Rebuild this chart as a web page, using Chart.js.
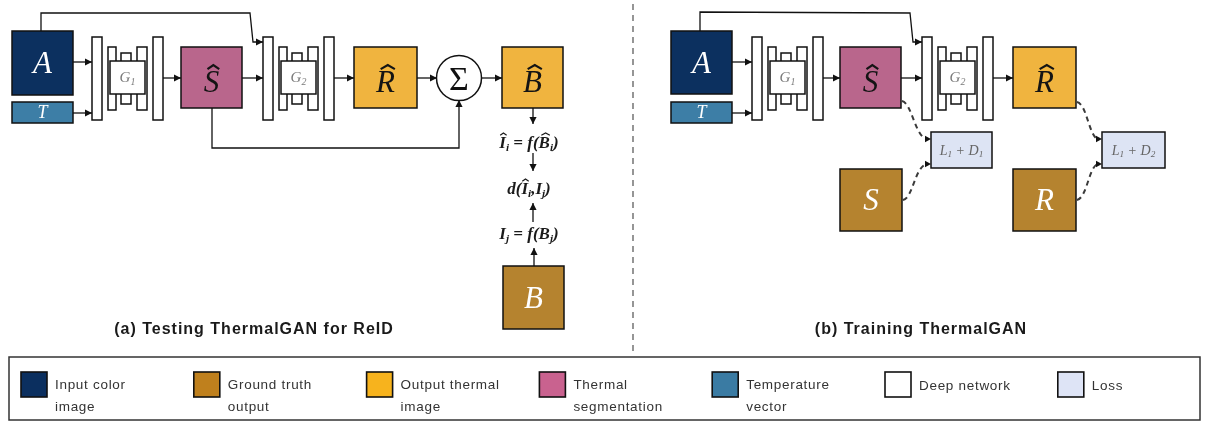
<!DOCTYPE html>
<html>
<head>
<meta charset="utf-8">
<script src="https://cdn.jsdelivr.net/npm/chart.js@4"></script>
<style>
  html, body { margin: 0; padding: 0; background: #ffffff; }
  canvas { display: block; }
</style>
</head>
<body>
<canvas id="diagram" width="1209" height="423"></canvas>
<script>
// ---- Diagram content (coordinates are in diagram units: x 0..1209, y 0..423 top-down) ----

// Coloured image blocks
const blockLetters = ['A', 'T', 'S', 'R', 'B', 'B', 'A', 'T', 'S', 'R', 'S', 'R'];
const blockHats    = [false, false, true, true, true, false, false, false, true, true, false, false];
const blockKinds   = ['input', 'temp', 'seg', 'thermal', 'thermal', 'truth',
                      'input', 'temp', 'seg', 'thermal', 'truth', 'truth'];
const blockLeft    = [12, 12, 181, 354, 502, 503, 671, 671, 840, 1013, 840, 1013];
const blockTop     = [31, 102, 47, 47, 47, 266, 31, 102, 47, 47, 169, 169];
const blockRight   = [73, 73, 242, 417, 563, 564, 732, 732, 901, 1076, 902, 1076];
const blockBottom  = [95, 123, 108, 108, 108, 329, 94, 123, 108, 108, 231, 231];

// Generator networks (encoder bar, G block, decoder bar)
const genIndex = ['1', '2', '1', '2'];
const genStart = [92, 263, 752, 922];

// Loss blocks
const lossIndex  = ['1', '2'];
const lossLeft   = [931, 1102];
const lossRight  = [992, 1165];
const lossTop    = [132, 132];
const lossBottom = [168, 168];

// Solid arrows (polylines, arrowhead at the last point)
const arrowPaths = [
  [[73, 62], [92, 62]], [[73, 113], [92, 113]], [[163, 78], [181, 78]], [[242, 78], [263, 78]],
  [[41, 31], [41, 13], [250, 13], [253, 42], [263, 42]],
  [[334, 78], [354, 78]], [[417, 78], [437, 78]], [[482, 78], [502, 78]],
  [[212, 108], [212, 148], [459, 148], [459, 100]],
  [[533, 108], [533, 124]], [[533, 153], [533, 171]], [[533, 222], [533, 203]], [[534, 266], [534, 248]],
  [[732, 62], [752, 62]], [[732, 113], [752, 113]], [[823, 78], [840, 78]], [[901, 78], [922, 78]],
  [[700, 31], [700, 12], [910, 13], [913, 42], [922, 42]],
  [[993, 78], [1013, 78]]
];

// Dashed loss connections (cubic curves: start, control 1, control 2, end)
const lossCurves = [
  [[902, 101], [912, 103], [915, 137], [931, 139]],
  [[903, 200], [913, 198], [915, 166], [931, 164]],
  [[1077, 102], [1087, 104], [1089, 137], [1102, 139]],
  [[1077, 200], [1087, 198], [1089, 166], [1102, 164]]
];

// Summation node
const sumNode = { x: 459, y: 78, r: 22.5 };

// ReID distance formulas
const formulaRows = [
  [{ t: 'I', hat: true }, { t: 'i', sub: true }, { t: ' = ' }, { t: 'f' }, { t: '(' }, { t: 'B', hat: true }, { t: 'i', sub: true }, { t: ')' }],
  [{ t: 'd' }, { t: '(' }, { t: 'I', hat: true }, { t: 'i', sub: true }, { t: ',' }, { t: 'I' }, { t: 'j', sub: true }, { t: ')' }],
  [{ t: 'I' }, { t: 'j', sub: true }, { t: ' = ' }, { t: 'f' }, { t: '(' }, { t: 'B' }, { t: 'j', sub: true }, { t: ')' }]
];
const formulaY = [142, 188, 233];

const panelTitles = ['(a) Testing ThermalGAN for ReID', '(b) Training ThermalGAN'];
const legendLabels = [['Input color', 'image'], ['Ground truth', 'output'], ['Output thermal', 'image'],
                      ['Thermal', 'segmentation'], ['Temperature', 'vector'], ['Deep network'], ['Loss']];
const legendKinds = ['input', 'truth', 'thermal', 'seg', 'temp', 'net', 'loss'];

// ---- Styles ----
const blockFill = { input: '#0c305f', temp: '#3d7ea6', seg: '#b9668c', thermal: '#f0b43f', truth: '#b5832f' };
const legendFill = { input: '#0b2f5f', truth: '#bf801d', thermal: '#f7b31d', seg: '#c9628f', temp: '#3a7ba3', net: '#ffffff', loss: '#dee4f6' };
const lossFill = '#dde4f4';
const ink = '#111111';

function drawHat(ctx, cx, top, w, h, lw, color) {
  ctx.save();
  ctx.strokeStyle = color;
  ctx.lineWidth = lw;
  ctx.lineJoin = 'miter';
  ctx.beginPath();
  ctx.moveTo(cx - w / 2, top + h);
  ctx.lineTo(cx, top);
  ctx.lineTo(cx + w / 2, top + h);
  ctx.stroke();
  ctx.restore();
}

// Inline math-like text with subscripts and hats, centred on (cx, cy)
function drawRich(ctx, segs, cx, cy, size, opt) {
  const o = Object.assign({ family: 'Liberation Serif', style: 'italic', weight: 'normal', color: ink }, opt || {});
  const subSize = size * 0.66;
  const fontFor = s => `${o.style} ${o.weight} ${s.sub ? subSize : size}px "${o.family}"`;
  const widths = segs.map(s => { ctx.font = fontFor(s); return ctx.measureText(s.t).width; });
  const total = widths.reduce((a, b) => a + b, 0);
  let x = cx - total / 2;
  const base = cy + size * 0.33;
  ctx.textAlign = 'left';
  ctx.textBaseline = 'alphabetic';
  ctx.fillStyle = o.color;
  segs.forEach((s, i) => {
    ctx.font = fontFor(s);
    ctx.fillText(s.t, x, s.sub ? base + size * 0.2 : base);
    if (s.hat) drawHat(ctx, x + widths[i] * 0.62, base - size * 0.86, Math.max(widths[i] * 0.75, size * 0.38), size * 0.13, size * 0.07, o.color);
    x += widths[i];
  });
}

const diagramPlugin = {
  id: 'diagramPlugin',
  afterDatasetsDraw(chart) {
    const ctx = chart.ctx;
    const sx = chart.scales.x, sy = chart.scales.y;
    const X = v => sx.getPixelForValue(v);
    const Y = v => sy.getPixelForValue(v);
    const centres = chart.getDatasetMeta(0).data;

    const box = (x0, y0, x1, y1, fill, lw) => {
      const a = X(x0), b = Y(y0), w = X(x1) - a, h = Y(y1) - b;
      ctx.fillStyle = fill;
      ctx.fillRect(a, b, w, h);
      ctx.lineWidth = lw || 1.5;
      ctx.strokeStyle = ink;
      ctx.strokeRect(a, b, w, h);
    };

    ctx.save();
    ctx.lineCap = 'butt';

    // panel separator
    ctx.save();
    ctx.strokeStyle = '#6a6a6a';
    ctx.lineWidth = 1.4;
    ctx.setLineDash([6, 5]);
    ctx.beginPath();
    ctx.moveTo(X(633), Y(4));
    ctx.lineTo(X(633), Y(356));
    ctx.stroke();
    ctx.restore();

    // solid arrows
    ctx.strokeStyle = ink;
    ctx.fillStyle = ink;
    arrowPaths.forEach(path => {
      ctx.lineWidth = 1.3;
      ctx.beginPath();
      path.forEach((p, i) => (i ? ctx.lineTo(X(p[0]), Y(p[1])) : ctx.moveTo(X(p[0]), Y(p[1]))));
      const [px, py] = path[path.length - 2];
      const [qx, qy] = path[path.length - 1];
      const ang = Math.atan2(Y(qy) - Y(py), X(qx) - X(px));
      ctx.stroke();
      const L = 7, W = 3.6;
      const ex = X(qx), ey = Y(qy);
      ctx.beginPath();
      ctx.moveTo(ex, ey);
      ctx.lineTo(ex - L * Math.cos(ang) + W * Math.sin(ang), ey - L * Math.sin(ang) - W * Math.cos(ang));
      ctx.lineTo(ex - L * Math.cos(ang) - W * Math.sin(ang), ey - L * Math.sin(ang) + W * Math.cos(ang));
      ctx.closePath();
      ctx.fill();
    });

    // dashed loss connections
    lossCurves.forEach(c => {
      ctx.save();
      ctx.strokeStyle = '#3a3a3a';
      ctx.lineWidth = 2;
      ctx.setLineDash([5, 4]);
      ctx.beginPath();
      ctx.moveTo(X(c[0][0]), Y(c[0][1]));
      ctx.bezierCurveTo(X(c[1][0]), Y(c[1][1]), X(c[2][0]), Y(c[2][1]), X(c[3][0]) - 4, Y(c[3][1]));
      ctx.stroke();
      ctx.restore();
      const ex = X(c[3][0]), ey = Y(c[3][1]);
      ctx.fillStyle = ink;
      ctx.beginPath();
      ctx.moveTo(ex, ey);
      ctx.lineTo(ex - 6, ey - 3.2);
      ctx.lineTo(ex - 6, ey + 3.2);
      ctx.closePath();
      ctx.fill();
    });

    // generator networks
    genStart.forEach((g, i) => {
      box(g, 37, g + 10, 120, '#ffffff');
      box(g + 61, 37, g + 71, 120, '#ffffff');
      box(g + 16, 47, g + 24, 110, '#ffffff');
      box(g + 45, 47, g + 55, 110, '#ffffff');
      box(g + 29, 53, g + 39, 104, '#ffffff');
      box(g + 18, 61, g + 53, 94, '#ffffff');
      drawRich(ctx, [{ t: 'G' }, { t: genIndex[i], sub: true }], X(g + 35.5), Y(77), 15, { color: '#7a7a7a' });
    });

    // colour blocks
    blockLetters.forEach((letter, i) => {
      box(blockLeft[i], blockTop[i], blockRight[i], blockBottom[i], blockFill[blockKinds[i]]);
      const c = centres[i];
      const small = blockKinds[i] === 'temp';
      const size = small ? 18 : 31;
      const light = blockKinds[i] === 'input' || blockKinds[i] === 'temp' || blockKinds[i] === 'truth';
      drawRich(ctx, [{ t: letter, hat: blockHats[i] }], c.x, c.y + (blockHats[i] ? 4 : 0), size,
        { color: light ? '#ffffff' : '#141414' });
    });

    // loss blocks
    lossIndex.forEach((k, i) => {
      box(lossLeft[i], lossTop[i], lossRight[i], lossBottom[i], lossFill);
      drawRich(ctx, [{ t: 'L' }, { t: '1', sub: true }, { t: ' + D' }, { t: k, sub: true }],
        X((lossLeft[i] + lossRight[i]) / 2), Y((lossTop[i] + lossBottom[i]) / 2), 14, { color: '#666666' });
    });

    // summation node
    ctx.fillStyle = '#ffffff';
    ctx.strokeStyle = ink;
    ctx.lineWidth = 1.5;
    ctx.beginPath();
    ctx.arc(X(sumNode.x), Y(sumNode.y), sx.getPixelForValue(sumNode.r) - sx.getPixelForValue(0), 0, Math.PI * 2);
    ctx.fill();
    ctx.stroke();
    drawRich(ctx, [{ t: 'Σ' }], X(sumNode.x), Y(sumNode.y) + 1, 34, { style: 'normal', color: ink });

    // formulas
    formulaRows.forEach((row, i) => {
      drawRich(ctx, row, X(529), Y(formulaY[i]), 17, { weight: 'bold', color: '#1a1a1a' });
    });

    // panel titles
    ctx.fillStyle = '#1a1a1a';
    ctx.font = 'bold 16px "Liberation Sans"';
    ctx.letterSpacing = '1px';
    ctx.textAlign = 'center';
    ctx.textBaseline = 'middle';
    ctx.fillText(panelTitles[0], X(254), Y(330));
    ctx.fillText(panelTitles[1], X(921), Y(330));
    ctx.letterSpacing = '0px';

    // legend frame
    ctx.lineWidth = 1.5;
    ctx.strokeStyle = '#333333';
    ctx.strokeRect(X(9), Y(357), X(1200) - X(9), Y(420) - Y(357));

    // legend entries
    legendLabels.forEach((lines, i) => {
      const x0 = 21 + i * 172.8;
      box(x0, 372, x0 + 26, 397, legendFill[legendKinds[i]], 1.6);
      ctx.fillStyle = '#333333';
      ctx.font = '13.5px "Liberation Sans"';
      ctx.letterSpacing = '0.7px';
      ctx.textAlign = 'left';
      ctx.textBaseline = 'middle';
      if (lines.length === 1) {
        ctx.fillText(lines[0], X(x0 + 34), Y(386));
      } else {
        ctx.fillText(lines[0], X(x0 + 34), Y(385));
        ctx.fillText(lines[1], X(x0 + 34), Y(407));
      }
      ctx.letterSpacing = '0px';
    });

    ctx.restore();
  }
};

new Chart(document.getElementById('diagram'), {
  type: 'scatter',
  data: {
    datasets: [{
      data: blockLeft.map((l, i) => ({ x: (l + blockRight[i]) / 2, y: (blockTop[i] + blockBottom[i]) / 2 })),
      pointRadius: 0,
      showLine: false
    }]
  },
  options: {
    responsive: false,
    animation: false,
    events: [],
    layout: { padding: 0 },
    plugins: { legend: { display: false }, tooltip: { enabled: false } },
    scales: {
      x: { type: 'linear', min: 0, max: 1209, display: false },
      y: { type: 'linear', min: 0, max: 423, reverse: true, display: false }
    }
  },
  plugins: [diagramPlugin]
});
</script>
</body>
</html>
